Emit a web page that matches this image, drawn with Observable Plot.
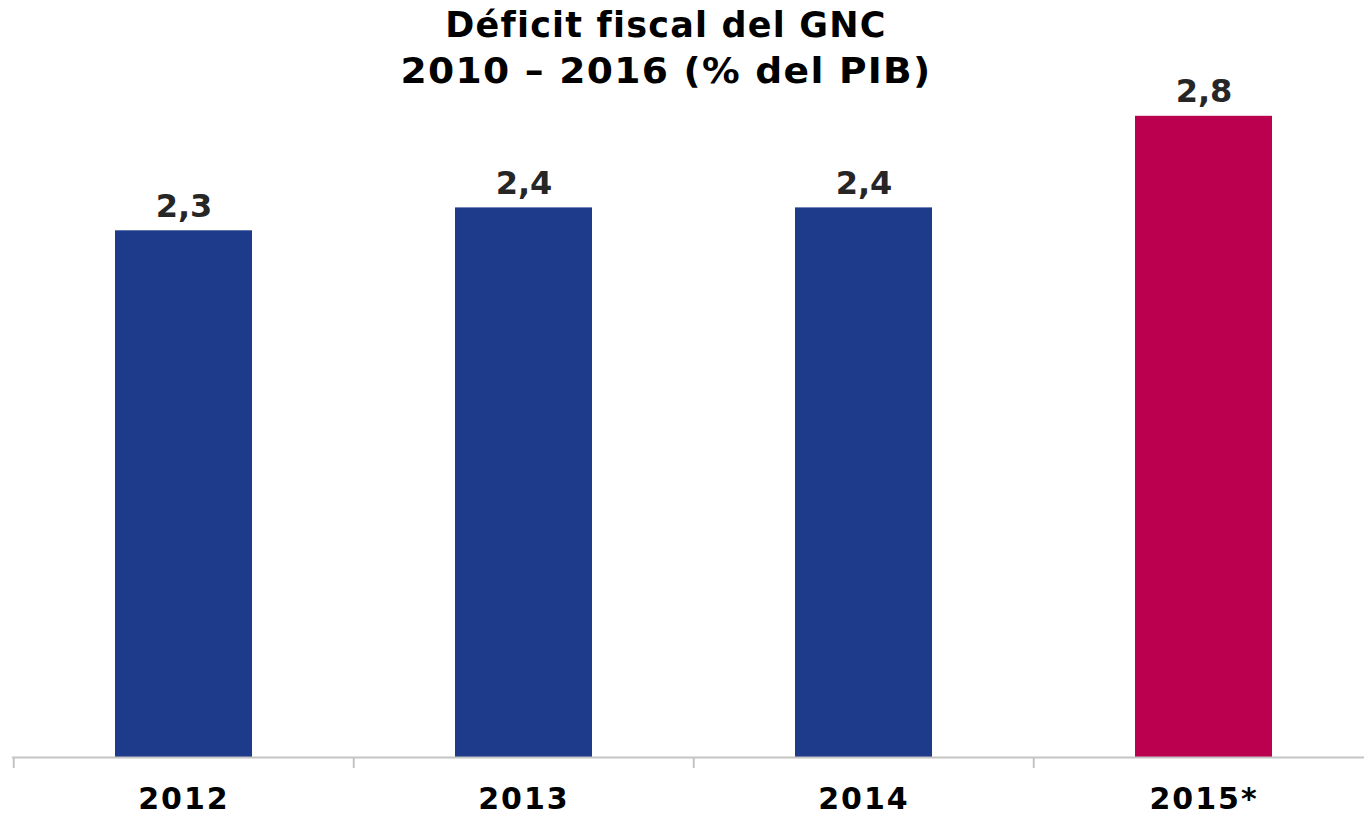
<!DOCTYPE html>
<html>
<head>
<meta charset="utf-8">
<script src="https://cdn.jsdelivr.net/npm/d3@7"></script>
<script src="https://cdn.jsdelivr.net/npm/@observablehq/plot@0.6"></script>
<style>
  html, body { margin: 0; padding: 0; background: #fff; overflow: hidden; }
  #title { height: 66px; overflow: visible; box-sizing: border-box; padding-top: 2px; padding-right: 32px; text-align: center;
    font-family: "DejaVu Sans", Verdana, sans-serif; font-weight: bold; font-size: 35px;
    line-height: 46px; color: #000; letter-spacing: 1.2px; white-space: nowrap; position: relative; z-index: 1; }
  #title span { display: inline-block; }
  #title .l2 { transform: scaleX(1.075); }
  .ticklabels text { letter-spacing: 2px; }
</style>
</head>
<body>
<div id="title"><span>Déficit fiscal del GNC</span><br><span class="l2">2010 – 2016 (% del PIB)</span></div>
<div id="chart"></div>
<script>
const categories = ["2012", "2013", "2014", "2015*"];
const values = [2.3, 2.4, 2.4, 2.8];
const barColors = ["#1E3A8A", "#1E3A8A", "#1E3A8A", "#BC0050"];

const data = categories.map((c, i) => ({ cat: c, value: values[i], color: barColors[i] }));
const fmt = v => v.toFixed(1).replace(".", ",");

const W = 1364, H = 749;
const base = 691, perUnit = 229;
const xRange = [12, 1374];
const step = (xRange[1] - xRange[0]) / categories.length;

const chart = Plot.plot({
  width: W,
  height: H,
  marginLeft: 12,
  marginRight: 0,
  marginBottom: H - base,
  marginTop: base - 2.8 * perUnit,
  style: { fontFamily: "'DejaVu Sans', Verdana, sans-serif", background: "transparent" },
  x: { domain: categories, range: xRange, paddingInner: 0.598, paddingOuter: 0.299, label: null },
  y: { domain: [0, 2.8], axis: null },
  marks: [
    Plot.barY(data, { x: "cat", y: "value", fill: "color" }),
    Plot.ruleY([0], { stroke: "#c4c4c4", strokeWidth: 2 }),
    Plot.axisX({ tickSize: 11, dx: -step / 2, text: null, label: null, stroke: "#c4c4c4", strokeWidth: 2 }),
    Plot.axisX({ tickSize: 0, tickPadding: 30, label: null, fontSize: 30, fontWeight: "bold", fill: "#000", className: "ticklabels" }),
    Plot.text(data, { x: "cat", y: "value", text: d => fmt(d.value), dy: -14, lineAnchor: "bottom",
      fontSize: 32, fontWeight: "bold", fill: "#262626" })
  ]
});
document.getElementById("chart").appendChild(chart);
</script>
</body>
</html>
